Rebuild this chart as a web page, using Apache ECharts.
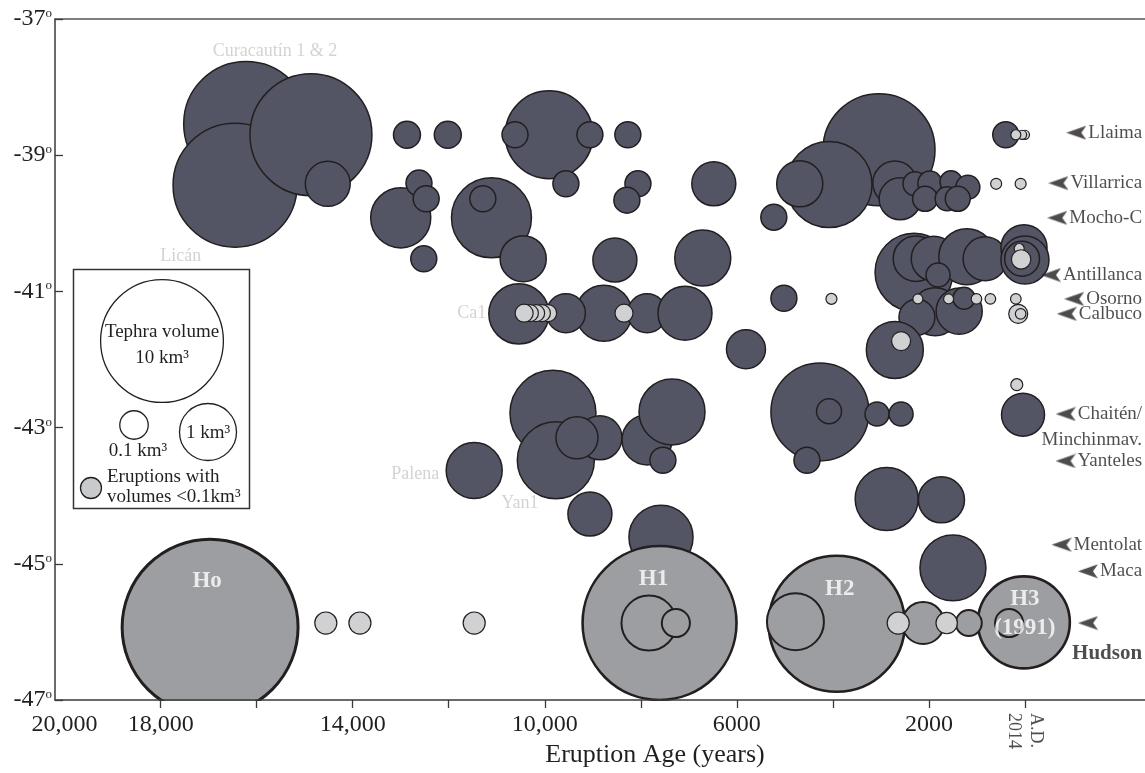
<!DOCTYPE html>
<html>
<head>
<meta charset="utf-8">
<script src="https://cdn.jsdelivr.net/npm/echarts@6/dist/echarts.min.js"></script>
<style>html,body{margin:0;padding:0;background:#fff}#c{width:1145px;height:773px}</style>
</head>
<body>
<div id="c"></div>
<script>
// ---------------- DATA ----------------
// [eruption age (years before A.D. 2014), latitude (deg), tephra volume (km3)]
const darkEruptions = [
  [16220, -38.54, 10.5], [16450, -39.44, 10.3], [14870, -38.70, 9.8], [14520, -39.42, 0.49],
  [12870, -38.70, 0.106], [12020, -38.70, 0.106], [13000, -39.92, 1.17], [12620, -39.41, 0.095],
  [12470, -39.64, 0.095], [12520, -40.52, 0.095], [11110, -39.92, 2.76], [11290, -39.64, 0.095],
  [9910, -38.70, 3.66], [10620, -38.70, 0.095], [9060, -38.70, 0.095], [8270, -38.70, 0.095],
  [9560, -39.42, 0.095], [8060, -39.42, 0.095], [8290, -39.66, 0.095], [6480, -39.42, 0.46],
  [10450, -40.52, 0.53], [8540, -40.54, 0.46], [6710, -40.51, 0.95],
  [10540, -41.33, 1.17], [8770, -41.32, 0.95], [9560, -41.32, 0.32], [7870, -41.32, 0.32], [7080, -41.32, 0.85],
  [9830, -42.79, 3.43], [9770, -43.48, 2.47], [8850, -43.15, 0.46], [9330, -43.15, 0.40],
  [7870, -43.18, 0.68], [7350, -42.77, 1.55], [7540, -43.48, 0.095],
  [11470, -43.63, 0.95], [9060, -44.27, 0.46], [7580, -44.61, 1.42],
  [3040, -38.92, 7.6], [4080, -39.43, 3.43], [4690, -39.42, 0.53], [5230, -39.91, 0.095],
  [2710, -39.41, 0.46], [2600, -39.64, 0.40], [2290, -39.42, 0.075], [1980, -39.41, 0.075],
  [2080, -39.64, 0.084], [1540, -39.39, 0.058], [1190, -39.47, 0.075], [1620, -39.64, 0.075],
  [1400, -39.64, 0.084], [400, -38.70, 0.095],
  [2310, -40.72, 2.56], [2270, -40.52, 0.51], [1900, -40.52, 0.49], [1210, -40.49, 0.95],
  [830, -40.52, 0.46], [20, -40.36, 0.53], [0, -40.54, 0.60], [60, -40.52, 0.23], [1810, -40.76, 0.075],
  [5020, -41.10, 0.095], [1870, -41.30, 0.60], [2250, -41.38, 0.25], [1370, -41.29, 0.53], [1270, -41.10, 0.058],
  [2710, -41.86, 1.0], [5810, -41.85, 0.32],
  [4270, -42.77, 5.08], [4080, -42.76, 0.084], [4540, -43.48, 0.095], [3080, -42.80, 0.075], [2580, -42.80, 0.075],
  [40, -42.81, 0.43], [2880, -44.05, 1.35], [1740, -44.06, 0.53], [1500, -45.06, 1.55]
];
const hudsonEruptions = [
  [16970, -45.93, 29.4], [7610, -45.87, 19.7], [3920, -45.88, 13.6], [23, -45.86, 4.2],
  [7830, -45.87, 0.90], [7270, -45.87, 0.12], [4780, -45.85, 1.0], [2120, -45.87, 0.40],
  [1170, -45.87, 0.095], [330, -45.87, 0.12]
];
const hudsonLabels = ['Ho', 'H1', 'H2', 'H3\n(1991)'];
const smallEruptions = [
  [0, -38.70, 0.004], [60, -38.70, 0.004], [190, -38.70, 0.0054],
  [600, -39.42, 0.0072], [90, -39.42, 0.0072],
  [120, -40.37, 0.0054], [80, -40.53, 0.039],
  [4030, -41.11, 0.0072], [2230, -41.11, 0.0054], [1590, -41.11, 0.0054], [1010, -41.11, 0.0064],
  [720, -41.11, 0.0064], [190, -41.11, 0.0064],
  [140, -41.33, 0.037], [90, -41.33, 0.0064],
  [2580, -41.73, 0.037], [170, -42.37, 0.0093],
  [9930, -41.32, 0.0265], [10060, -41.32, 0.0265], [10180, -41.32, 0.0265], [10310, -41.32, 0.0265],
  [10430, -41.32, 0.0315], [8350, -41.32, 0.0315],
  [14560, -45.87, 0.058], [13850, -45.87, 0.058], [11470, -45.87, 0.058], [2640, -45.87, 0.058], [1630, -45.87, 0.053]
];
const volcanoNames = ['Llaima', 'Villarrica', 'Mocho-C', 'Antillanca', 'Osorno', 'Calbuco',
  'Chaitén/\nMinchinmav.', 'Yanteles', 'Mentolat', 'Maca', 'Hudson'];
const volcanoLats = [-38.67, -39.41, -39.92, -40.76, -41.11, -41.33, -42.80, -43.49, -44.72, -45.11, -45.87];
const regionNames = ['Curacautín 1 & 2', 'Licán', 'Ca1', 'Palena', 'Yan1'];
const regionAges = [15620, 17580, 11520, 12700, 10520];
const regionLats = [-37.47, -40.48, -41.32, -43.68, -44.11];
const xTickValues = [20000, 18000, 14000, 10000, 6000, 2000];
const xTickLabels = ['20,000', '18,000', '14,000', '10,000', '6000', '2000'];
const xMinorTicks = [18000, 16000, 14000, 12000, 10000, 8000, 6000, 4000, 2000, 0];
const yTickValues = [-47, -45, -43, -41, -39, -37];

// ---------------- STYLE ----------------
const SERIF = '"Liberation Serif", "Times New Roman", serif';
const INK = '#231f20';
function sizeOf(v) { return 57 * Math.cbrt(v); }

const arrowImg = document.createElement('canvas');
arrowImg.width = 20; arrowImg.height = 15;
(function () {
  const g = arrowImg.getContext('2d');
  g.fillStyle = INK;
  g.beginPath(); g.moveTo(0, 7.5); g.lineTo(20, 0.5); g.lineTo(15, 7.5); g.lineTo(20, 14.5); g.closePath(); g.fill();
})();

const chart = echarts.init(document.getElementById('c'), null, { renderer: 'canvas', width: 1145, height: 773 });

const hudsonOffsets = [[-3, -46], [-6, -44], [3, -35], [1, -9]];
const labelAnchorAge = -2440;

const option = {
  animation: false,
  grid: { left: 55, right: 0, top: 19, bottom: 73, containLabel: false },
  xAxis: [{
    type: 'value', inverse: true, min: -2500, max: 20200, z: 10,
    axisLine: { show: true, onZero: false, lineStyle: { color: '#3a3a3a', width: 1.5 } },
    axisTick: { show: true, inside: false, length: 8, customValues: xMinorTicks, lineStyle: { color: '#3a3a3a', width: 1.3 } },
    axisLabel: {
      customValues: xTickValues, margin: 13, color: INK, fontSize: 24, fontFamily: SERIF,
      formatter: v => xTickLabels[xTickValues.indexOf(v)]
    },
    splitLine: { show: false },
    name: 'Eruption Age (years)', nameLocation: 'middle', nameGap: 42,
    nameTextStyle: { fontSize: 26, fontFamily: SERIF, color: INK, padding: [0, 0, 0, 110] }
  }, {
    type: 'value', inverse: true, min: -2500, max: 20200, position: 'top', z: 10,
    axisLine: { show: true, onZero: false, lineStyle: { color: '#555', width: 1.5 } },
    axisTick: { show: false }, axisLabel: { show: false }, splitLine: { show: false }
  }],
  yAxis: {
    type: 'value', min: -47, max: -37, z: 10, position: 'left',
    axisLine: { show: true, onZero: false, lineStyle: { color: '#3a3a3a', width: 1.5 } },
    axisTick: { show: true, inside: true, length: 8, customValues: yTickValues, lineStyle: { color: '#3a3a3a', width: 1.3 } },
    axisLabel: {
      customValues: yTickValues, margin: 3, color: INK,
      formatter: v => '{n|' + v + '}{d|o}',
      rich: {
        n: { fontSize: 24, fontFamily: SERIF, color: INK },
        d: { fontSize: 13, fontFamily: SERIF, color: INK, padding: [0, 0, 11, 0] }
      }
    },
    splitLine: { show: false }
  },
  graphic: [
    { type: 'rect', z: 3, silent: true, shape: { x: 55, y: 701, width: 1090, height: 16 }, style: { fill: '#fff' } },
    { type: 'rect', z: 5, shape: { x: 73.5, y: 269.5, width: 176, height: 239 }, style: { fill: '#fff', stroke: '#333', lineWidth: 1.5 } },
    { type: 'circle', z: 6, shape: { cx: 162, cy: 341, r: sizeOf(10) / 2 }, style: { fill: '#fff', stroke: INK, lineWidth: 1.3 } },
    { type: 'circle', z: 6, shape: { cx: 134, cy: 425, r: sizeOf(0.1) / 2 + 1 }, style: { fill: '#fff', stroke: INK, lineWidth: 1.3 } },
    { type: 'circle', z: 6, shape: { cx: 208, cy: 432, r: sizeOf(1) / 2 }, style: { fill: '#fff', stroke: INK, lineWidth: 1.3 } },
    { type: 'circle', z: 6, shape: { cx: 91, cy: 488, r: sizeOf(0.05) / 2 }, style: { fill: '#c9cacc', stroke: INK, lineWidth: 1.3 } },
    { type: 'text', z: 7, style: { text: 'Tephra volume', x: 162, y: 332, fill: INK, font: '19px ' + SERIF, align: 'center', verticalAlign: 'middle' } },
    { type: 'text', z: 7, style: { text: '10 km³', x: 162, y: 358, fill: INK, font: '19px ' + SERIF, align: 'center', verticalAlign: 'middle' } },
    { type: 'text', z: 7, style: { text: '0.1 km³', x: 138, y: 451, fill: INK, font: '19px ' + SERIF, align: 'center', verticalAlign: 'middle' } },
    { type: 'text', z: 7, style: { text: '1 km³', x: 208, y: 433, fill: INK, font: '19px ' + SERIF, align: 'center', verticalAlign: 'middle' } },
    { type: 'text', z: 7, style: { text: 'Eruptions with', x: 107, y: 477, fill: INK, font: '19px ' + SERIF, align: 'left', verticalAlign: 'middle' } },
    { type: 'text', z: 7, style: { text: 'volumes <0.1km³', x: 107, y: 497, fill: INK, font: '19px ' + SERIF, align: 'left', verticalAlign: 'middle' } }
  ],
  series: [
    {
      name: 'Eruptions', type: 'scatter', z: 2, data: darkEruptions,
      symbolSize: v => sizeOf(v[2]),
      itemStyle: { color: '#535565', borderColor: INK, borderWidth: 1.5, opacity: 1 },
      emphasis: { disabled: true }, silent: true
    },
    {
      name: 'Hudson', type: 'scatter', z: 2, silent: true, emphasis: { disabled: true },
      data: hudsonEruptions.map(d => ({
        value: d,
        itemStyle: { borderWidth: d[2] > 20 ? 3 : (d[2] >= 4 ? 2.6 : 2) }
      })),
      symbolSize: v => sizeOf(v[2]),
      itemStyle: { color: '#9d9ea1', borderColor: INK, opacity: 1 }
    },
    {
      name: 'Small eruptions', type: 'scatter', z: 2, silent: true, emphasis: { disabled: true },
      data: smallEruptions, symbolSize: v => sizeOf(v[2]),
      itemStyle: { color: '#d0d1d3', borderColor: INK, borderWidth: 1.2, opacity: 1 }
    },
    {
      name: 'Hudson labels', type: 'scatter', z: 20, silent: true, clip: false, symbolSize: 0,
      data: hudsonLabels.map((t, i) => ({
        value: hudsonEruptions[i].slice(0, 2), name: t,
        label: { offset: hudsonOffsets[i] }
      })),
      label: {
        show: true, position: 'inside', formatter: p => p.name, color: '#fff',
        fontSize: 23, fontWeight: 'bold', fontFamily: SERIF, lineHeight: 29
      }
    },
    {
      name: 'Regions', type: 'scatter', z: 20, silent: true, clip: false, symbolSize: 0,
      data: regionNames.map((t, i) => ({ value: [regionAges[i], regionLats[i]], name: t })),
      label: { show: true, position: 'inside', formatter: p => p.name, color: '#c8c8c8', fontSize: 18, fontFamily: SERIF }
    },
    {
      name: 'Volcanoes', type: 'scatter', z: 20, silent: true, clip: false, symbolSize: 0,
      data: volcanoNames.map((t, i) => ({
        value: [labelAnchorAge, volcanoLats[i]], name: t,
        label: { offset: t === 'Hudson' ? [0, 15.5] : (t.indexOf('\n') >= 0 ? [0, 13] : [0, 0]) }
      })),
      label: {
        show: true, position: 'left', distance: 0, align: 'right',
        formatter: p => {
          if (p.name === 'Hudson') return '{arrow| }{gapH| }\n{hb|Hudson}';
          const lines = p.name.split('\n');
          return '{arrow| }{sp| }{t|' + lines[0] + '}' + (lines.length > 1 ? '\n{t|' + lines[1] + '}' : '');
        },
        rich: {
          arrow: { width: 20, height: 15, backgroundColor: { image: arrowImg } },
          sp: { width: 2 },
          gapH: { width: 44, lineHeight: 31 },
          t: { fontSize: 19, fontFamily: SERIF, color: INK, lineHeight: 26 },
          hb: { fontSize: 21, fontWeight: 'bold', fontFamily: SERIF, color: INK, lineHeight: 31 }
        }
      }
    },
    {
      name: 'Present', type: 'scatter', z: 20, silent: true, clip: false, symbolSize: 0,
      data: [{ value: [0, -47], name: 'A.D.\n2014' }],
      label: {
        show: true, position: 'bottom', distance: 13, rotate: -90, align: 'left', verticalAlign: 'middle',
        formatter: p => p.name, fontSize: 18, fontFamily: SERIF, color: INK, lineHeight: 22
      }
    }
  ]
};
chart.setOption(option);
</script>
</body>
</html>
